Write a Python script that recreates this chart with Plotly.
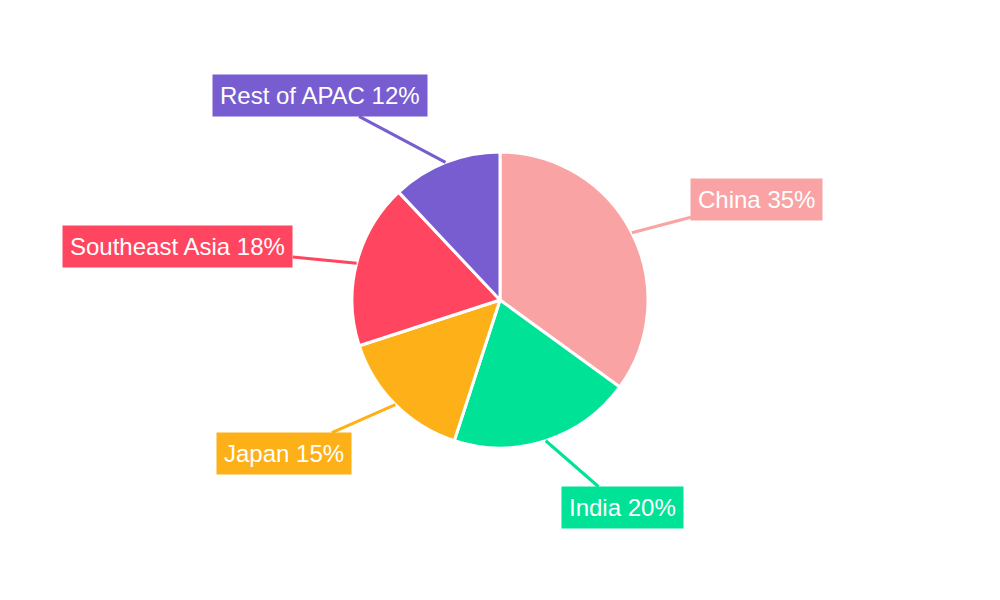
import numpy as np
import plotly.graph_objects as go

regions = ['China', 'India', 'Japan', 'Southeast Asia', 'Rest of APAC']
shares = [35, 20, 15, 18, 12]
colors = ['#F9A3A4', '#00E396', '#FEB019', '#FF4560', '#775DD0']
# label offsets (px) from slice edge to label centre
offsets = [(125, -33), (77, 67), (-111, 49), (-179, -17), (-126, -67)]

W, H = 1000, 600
cx, cy, r = 492, 292, 148

fig = go.Figure(go.Pie(
    labels=regions, values=shares, sort=False, direction='clockwise', rotation=0,
    marker=dict(colors=colors, line=dict(color='white', width=3)),
    textinfo='none', hoverinfo='label+percent',
    domain=dict(x=[0, 2 * cx / W], y=[(H - cy - r) / H, (H - cy + r) / H]),
))

total = sum(shares)
cum = 0
for name, v, c, (ax, ay) in zip(regions, shares, colors, offsets):
    mid = (cum + v / 2) / total * 2 * np.pi
    cum += v
    ex = cx + r * np.sin(mid)
    ey = cy - r * np.cos(mid)
    fig.add_annotation(
        x=ex / W, y=1 - ey / H, xref='paper', yref='paper',
        ax=ax, ay=ay, showarrow=True, arrowhead=0, arrowwidth=3, arrowcolor=c,
        text=f'{name} {round(v / total * 100)}%',
        font=dict(family='Liberation Sans, Arial', size=24, color='white'),
        bgcolor=c, borderpad=7,
    )

fig.update_layout(
    width=W, height=H, margin=dict(l=0, r=0, t=0, b=0),
    showlegend=False, paper_bgcolor='white', plot_bgcolor='white',
)
fig.write_html('out.html')
